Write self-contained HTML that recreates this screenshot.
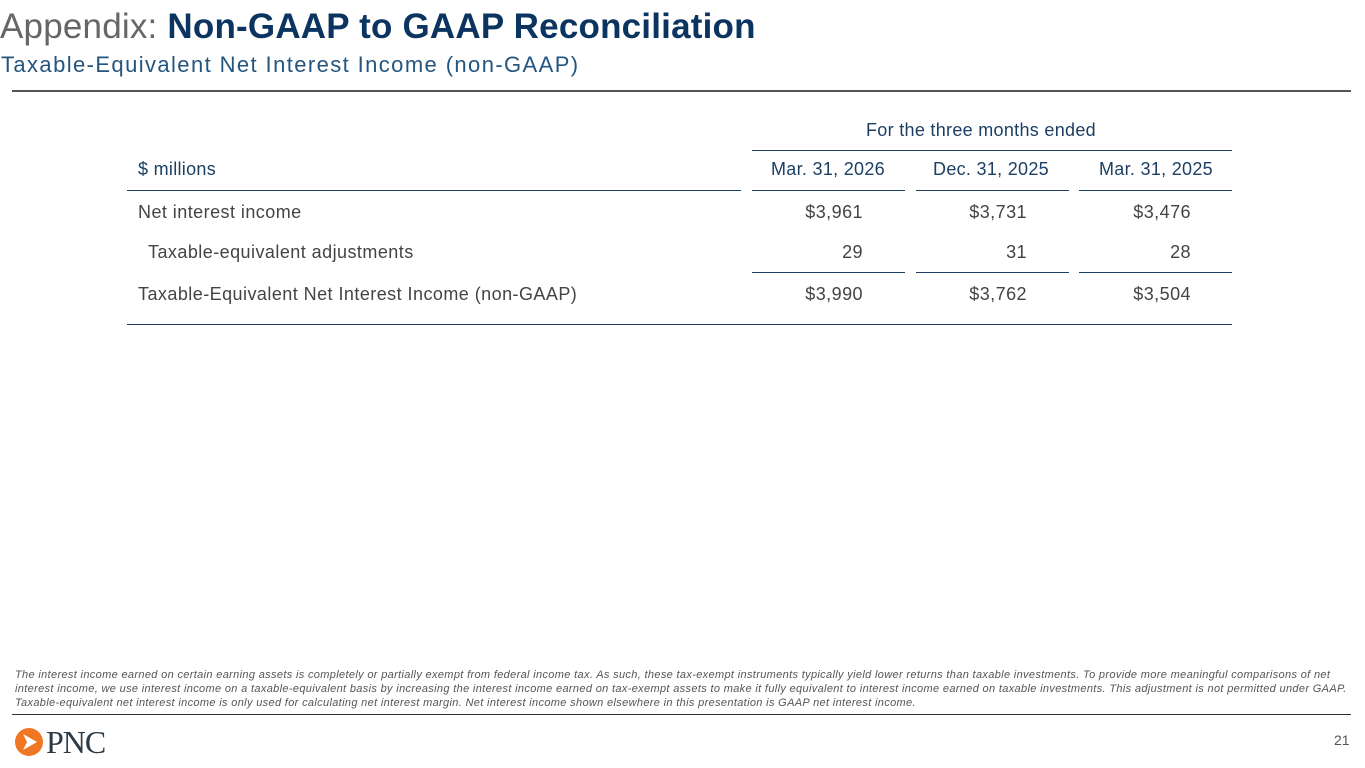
<!DOCTYPE html>
<html><head><meta charset="utf-8"><style>
body{margin:0;width:1365px;height:768px;background:#fff;position:relative;overflow:hidden;font-family:"Liberation Sans",sans-serif;}
.a{position:absolute;white-space:nowrap;}
.l{position:absolute;height:1px;background:#1c3f63;}
.t{font-size:18px;color:#444;letter-spacing:0.45px;}
.h{font-size:18px;color:#1c3f63;letter-spacing:0.3px;}
.r{text-align:right;width:140px;}
</style></head><body>
<div class="a" style="left:0;top:7px;font-size:35px;color:#666;letter-spacing:0.2px">Appendix: <b style="color:#0b3460">Non-GAAP to GAAP Reconciliation</b></div>
<div class="a" style="left:1px;top:52px;font-size:22px;color:#24557f;letter-spacing:1.4px">Taxable-Equivalent Net Interest Income (non-GAAP)</div>
<div class="l" style="left:12px;top:90px;width:1339px;height:2px;background:#555"></div>

<div class="a h" style="left:866px;top:120px">For the three months ended</div>
<div class="l" style="left:752px;top:150px;width:480px"></div>
<div class="a h" style="left:138px;top:159px">$ millions</div>
<div class="a h r" style="left:745px;top:159px">Mar. 31, 2026</div>
<div class="a h r" style="left:909px;top:159px">Dec. 31, 2025</div>
<div class="a h r" style="left:1073px;top:159px">Mar. 31, 2025</div>
<div class="l" style="left:127px;top:190px;width:614px"></div>
<div class="l" style="left:752px;top:190px;width:153px"></div>
<div class="l" style="left:916px;top:190px;width:153px"></div>
<div class="l" style="left:1079px;top:190px;width:153px"></div>

<div class="a t" style="left:138px;top:202px">Net interest income</div>
<div class="a t r" style="left:723px;top:202px">$3,961</div>
<div class="a t r" style="left:887px;top:202px">$3,731</div>
<div class="a t r" style="left:1051px;top:202px">$3,476</div>

<div class="a t" style="left:148px;top:242px">Taxable-equivalent adjustments</div>
<div class="a t r" style="left:723px;top:242px">29</div>
<div class="a t r" style="left:887px;top:242px">31</div>
<div class="a t r" style="left:1051px;top:242px">28</div>
<div class="l" style="left:752px;top:272px;width:153px"></div>
<div class="l" style="left:916px;top:272px;width:153px"></div>
<div class="l" style="left:1079px;top:272px;width:153px"></div>

<div class="a t" style="left:138px;top:284px">Taxable-Equivalent Net Interest Income (non-GAAP)</div>
<div class="a t r" style="left:723px;top:284px">$3,990</div>
<div class="a t r" style="left:887px;top:284px">$3,762</div>
<div class="a t r" style="left:1051px;top:284px">$3,504</div>
<div class="l" style="left:127px;top:324px;width:1105px"></div>

<div class="a" style="left:15px;top:668px;font-size:11px;line-height:14px;color:#555;font-style:italic;letter-spacing:0.34px">The interest income earned on certain earning assets is completely or partially exempt from federal income tax. As such, these tax-exempt instruments typically yield lower returns than taxable investments. To provide more meaningful comparisons of net<br>interest income, we use interest income on a taxable-equivalent basis by increasing the interest income earned on tax-exempt assets to make it fully equivalent to interest income earned on taxable investments. This adjustment is not permitted under GAAP.<br>Taxable-equivalent net interest income is only used for calculating net interest margin. Net interest income shown elsewhere in this presentation is GAAP net interest income.</div>
<div class="l" style="left:12px;top:714px;width:1339px;background:#333"></div>

<svg class="a" style="left:14px;top:727px" width="30" height="30" viewBox="0 0 30 30"><circle cx="15" cy="15" r="14" fill="#ef7622"/><path d="M9 7 L23 15 L9 23 L13 15 Z" fill="#fff"/></svg>
<div class="a" style="left:46px;top:724px;font-family:'Liberation Serif',serif;font-size:32px;color:#2b3a47;letter-spacing:-1px">PNC</div>
<div class="a" style="left:1334px;top:732px;font-size:14px;color:#555">21</div>
</body></html>
